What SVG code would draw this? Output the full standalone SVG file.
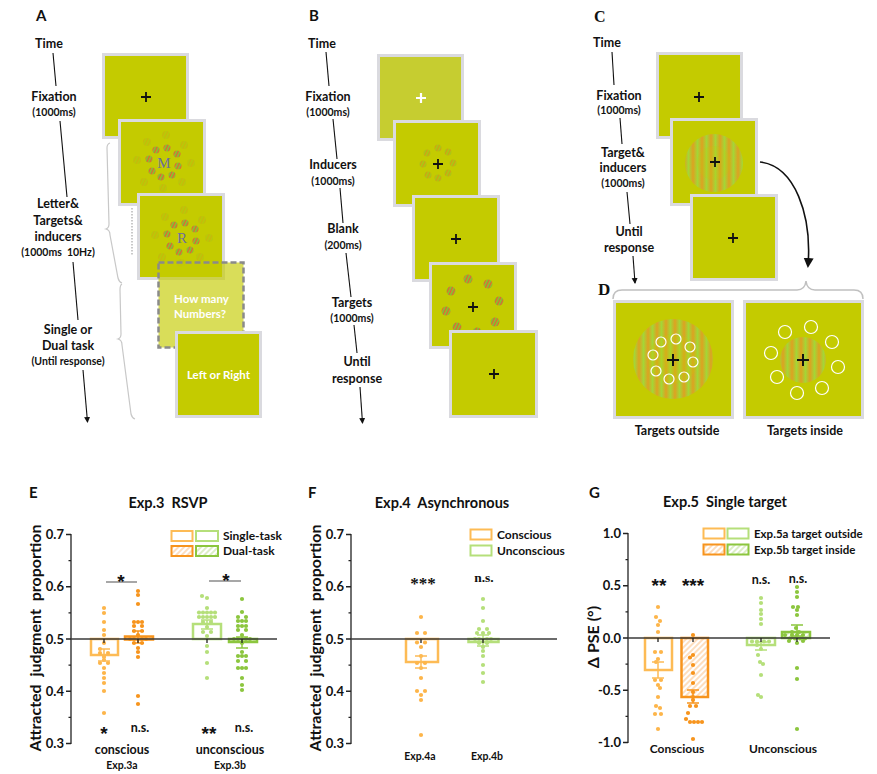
<svg xmlns="http://www.w3.org/2000/svg" width="877" height="774" viewBox="0 0 877 774">
<style>
.t{font-family:Lato,"Liberation Sans",sans-serif;font-weight:bold;fill:#111}
.s{font-size:12.5px;text-anchor:middle}
.p{font-size:10.5px;text-anchor:middle}
.lab{font-size:15px}
.serif{font-family:"Liberation Serif",serif;font-weight:bold;fill:#111}
.st{font-family:"Liberation Sans",sans-serif;font-weight:bold;fill:#111;font-size:19px;text-anchor:middle}
.scr{fill:#c4cb00;stroke:#dadadf;stroke-width:3}
.tl{stroke:#111;stroke-width:1.1;fill:none}
.ax{stroke:#222;stroke-width:1.3;fill:none}
.zl{stroke:#3a3a3a;stroke-width:1.6}
.tk{font-size:13px;text-anchor:end}
.yl{font-size:16px;text-anchor:middle}
.lo{fill:#fdb54a}.do{fill:#f7941d}.lg{fill:#b5df7a}.dg{fill:#8cc63e}
.brk{stroke:#c8c8c8;stroke-width:1.2;fill:none}
.cr{stroke:#111;stroke-width:1.8}
</style>
<defs>
<pattern id="rg" patternUnits="userSpaceOnUse" width="3" height="4" patternTransform="rotate(25)"><rect width="1.5" height="4" fill="#ee5a32"/><rect x="1.5" width="1.5" height="4" fill="#74c83a"/></pattern>
<linearGradient id="grat" gradientUnits="userSpaceOnUse" x1="0" y1="0" x2="9" y2="0" spreadMethod="repeat"><stop offset="0" stop-color="#e39a26"/><stop offset="0.5" stop-color="#9ed840"/><stop offset="1" stop-color="#e39a26"/></linearGradient>
<pattern id="hO" patternUnits="userSpaceOnUse" width="4" height="4" patternTransform="rotate(45)"><rect width="4" height="4" fill="#fff"/><line x1="1" y1="0" x2="1" y2="4" stroke="#fcc894" stroke-width="1.2"/></pattern>
<pattern id="hG" patternUnits="userSpaceOnUse" width="4" height="4" patternTransform="rotate(45)"><rect width="4" height="4" fill="#fff"/><line x1="1" y1="0" x2="1" y2="4" stroke="#c6e3a0" stroke-width="1.2"/></pattern>
<marker id="ah" markerUnits="userSpaceOnUse" markerWidth="8" markerHeight="8" refX="5" refY="3" orient="auto"><path d="M0,0 L6,3 L0,6 z" fill="#111"/></marker>
<marker id="ah2" markerUnits="userSpaceOnUse" markerWidth="12" markerHeight="12" refX="8" refY="5" orient="auto"><path d="M0,0 L10,5 L0,10 z" fill="#111"/></marker>
</defs>
<rect width="877" height="774" fill="#fff"/>

<!-- ===== Panel A ===== -->
<g id="panelA">
<text class="t lab" x="36" y="21">A</text>
<g id="A-timeline">
<text class="t s" x="49" y="48">Time</text>
<text class="t s" x="54" y="101">Fixation</text>
<text class="t p" x="54" y="116">(1000ms)</text>
<text class="t s" x="58" y="208">Letter&amp;</text>
<text class="t s" x="58" y="225">Targets&amp;</text>
<text class="t s" x="58" y="241">inducers</text>
<text class="t p" x="58" y="256">(1000ms&#160; 10Hz)</text>
<text class="t s" x="68" y="334">Single or</text>
<text class="t s" x="68" y="350">Dual task</text>
<text class="t p" x="68" y="365">(Until response)</text>
</g>
<g id="A-brackets">
<path class="brk" d="M110,143 Q107,144 107,148 L109,224 Q109,228 106,229 Q110,230 110,235 L118,278 Q119,282 122,283"/>
<path class="brk" d="M122,284 Q120,285 120,290 L121,334 Q121,338 118,339 Q122,340 122,345 L131,414 Q132,418 135,419"/>
<line x1="132" y1="208" x2="132" y2="256" stroke="#b8b8b8" stroke-width="1.5" stroke-dasharray="1.5,1.5"/>
</g>
<g id="A-screen1"><rect class="scr" x="103.5" y="54.5" width="84" height="83"/>
<path class="cr" d="M141,97 h10 M146,92 v10"/></g>
<g id="A-screen2"><rect class="scr" x="119.5" y="120.5" width="85" height="84"/>
<g fill="url(#rg)" opacity="0.18"><circle cx="166" cy="135" r="4"/><circle cx="184" cy="145" r="4"/><circle cx="191" cy="163" r="4"/><circle cx="182" cy="182" r="4"/><circle cx="163" cy="188" r="4"/><circle cx="144" cy="182" r="4"/><circle cx="137" cy="160" r="4"/><circle cx="147" cy="142" r="4"/></g>
<g fill="url(#rg)"><circle cx="156" cy="150" r="3.6"/><circle cx="167" cy="148" r="3.6"/><circle cx="177" cy="154" r="3.6"/><circle cx="178" cy="166" r="3.6"/><circle cx="172" cy="175" r="3.6"/><circle cx="161" cy="177" r="3.6"/><circle cx="152" cy="171" r="3.6"/><circle cx="149" cy="159" r="3.6"/></g>
<text x="164" y="168" font-family="Liberation Serif,serif" font-size="15" fill="#6c6f9e" text-anchor="middle">M</text></g>
<g id="A-screen3"><rect class="scr" x="138.5" y="194.5" width="85" height="84"/>
<g fill="url(#rg)" opacity="0.18"><circle cx="184" cy="210" r="4"/><circle cx="202" cy="220" r="4"/><circle cx="209" cy="238" r="4"/><circle cx="200" cy="257" r="4"/><circle cx="181" cy="263" r="4"/><circle cx="162" cy="257" r="4"/><circle cx="155" cy="235" r="4"/><circle cx="165" cy="217" r="4"/></g>
<g fill="url(#rg)"><circle cx="174" cy="225" r="3.6"/><circle cx="185" cy="223" r="3.6"/><circle cx="195" cy="229" r="3.6"/><circle cx="196" cy="241" r="3.6"/><circle cx="190" cy="250" r="3.6"/><circle cx="179" cy="252" r="3.6"/><circle cx="170" cy="246" r="3.6"/><circle cx="167" cy="234" r="3.6"/></g>
<text x="182" y="243" font-family="Liberation Serif,serif" font-size="15" fill="#6c6f9e" text-anchor="middle">R</text></g>
<g id="A-screen4"><rect x="158.5" y="262.5" width="85" height="85" fill="#c4cb00" fill-opacity="0.65" stroke="#8a8a8a" stroke-width="2.5" stroke-dasharray="6,3"/>
<text class="t" x="174" y="303" font-size="11.5" style="fill:#fff">How many</text>
<text class="t" x="174" y="318" font-size="11.5" style="fill:#fff">Numbers?</text></g>
<g id="A-screen5"><rect class="scr" x="176.5" y="332.5" width="84" height="84"/>
<text class="t" x="218.5" y="379" font-size="11.5" text-anchor="middle" style="fill:#fff">Left or Right</text></g>
</g>

<!-- ===== Panel B ===== -->
<g id="panelB">
<text class="t lab" x="309" y="21">B</text>
<g id="B-timeline">
<text class="t s" x="322" y="48">Time</text>
<text class="t s" x="328" y="101">Fixation</text>
<text class="t p" x="328" y="116">(1000ms)</text>
<text class="t s" x="333" y="169">Inducers</text>
<text class="t p" x="333" y="185">(1000ms)</text>
<text class="t s" x="343" y="233">Blank</text>
<text class="t p" x="343" y="249">(200ms)</text>
<text class="t s" x="352" y="307">Targets</text>
<text class="t p" x="352" y="322">(1000ms)</text>
<text class="t s" x="357" y="366">Until</text>
<text class="t s" x="357" y="383">response</text>
</g>
<g id="B-screen1"><rect x="378.5" y="55.5" width="84" height="84" fill="#c6cd30" stroke="#dadadf" stroke-width="3"/>
<path d="M416,98 h10 M421,93 v10" stroke="#fff" stroke-width="2.2"/></g>
<g id="B-screen2"><rect class="scr" x="394.5" y="121.5" width="85" height="84"/>
<g fill="url(#rg)" opacity="0.4"><circle cx="438" cy="148" r="3.5"/><circle cx="448" cy="152" r="3.5"/><circle cx="453" cy="163" r="3.5"/><circle cx="448" cy="173" r="3.5"/><circle cx="438" cy="178" r="3.5"/><circle cx="428" cy="175" r="3.5"/><circle cx="423" cy="164" r="3.5"/><circle cx="427" cy="153" r="3.5"/></g>
<path class="cr" d="M433,164 h10 M438,159 v10"/></g>
<g id="B-screen3"><rect class="scr" x="413.5" y="196.5" width="85" height="84"/>
<path class="cr" d="M451,239 h10 M456,234 v10"/></g>
<g id="B-screen4"><rect class="scr" x="430.5" y="263.5" width="85" height="84"/>
<g fill="url(#rg)"><circle cx="468" cy="279" r="4.5"/><circle cx="488" cy="284" r="4.5"/><circle cx="499" cy="301" r="4.5"/><circle cx="495" cy="322" r="4.5"/><circle cx="477" cy="332" r="4.5"/><circle cx="457" cy="327" r="4.5"/><circle cx="446" cy="311" r="4.5"/><circle cx="451" cy="291" r="4.5"/></g>
<path class="cr" d="M468,307 h10 M473,302 v10"/></g>
<g id="B-screen5"><rect class="scr" x="450.5" y="331.5" width="86" height="85"/>
<path class="cr" d="M489,374 h10 M494,369 v10"/></g>
</g>

<!-- ===== Panel C ===== -->
<g id="panelC">
<text class="serif" x="594" y="22" font-size="16">C</text>
<g id="C-timeline">
<text class="t s" x="607" y="47">Time</text>
<text class="t s" x="619" y="100">Fixation</text>
<text class="t p" x="619" y="114">(1000ms)</text>
<text class="t s" x="623" y="157">Target&amp;</text>
<text class="t s" x="623" y="172">inducers</text>
<text class="t p" x="623" y="187">(1000ms)</text>
<text class="t s" x="629" y="236">Until</text>
<text class="t s" x="629" y="252">response</text>
</g>
<g id="C-screen1"><rect class="scr" x="657.5" y="53.5" width="84" height="84"/>
<path class="cr" d="M694,97 h10 M699,92 v10"/></g>
<g id="C-screen2"><rect class="scr" x="671.5" y="119.5" width="85" height="85"/>
<circle cx="714" cy="163" r="29" fill="url(#grat)" fill-opacity="0.85"/>
<circle cx="714" cy="163" r="17" fill="#c4cb00" fill-opacity="0.2"/>
<path class="cr" d="M710,162 h10 M715,157 v10"/></g>
<g id="C-screen3"><rect class="scr" x="691.5" y="195.5" width="85" height="84"/>
<path class="cr" d="M728,238 h10 M733,233 v10"/></g>
</g>

<!-- ===== Panel D ===== -->
<g id="panelD">
<text class="serif" x="598" y="295" font-size="17">D</text>
<path d="M613,299 Q613,290 622,290 L797,290 Q805,290 806,281 Q807,290 815,290 L854,290 Q863,290 863,299" stroke="#c0c0c0" stroke-width="1.5" fill="none"/>
<g id="D-outside"><rect class="scr" x="614.5" y="301.5" width="118" height="116"/>
<circle cx="673" cy="359" r="40" fill="url(#grat)" fill-opacity="0.85"/>
<circle cx="673" cy="359" r="25" fill="#c4cb00" fill-opacity="0.25"/>
<g fill="none" stroke="#fff" stroke-width="1.2"><circle cx="661" cy="342" r="5"/><circle cx="676" cy="339" r="5"/><circle cx="690" cy="347" r="5"/><circle cx="693" cy="362" r="5"/><circle cx="684" cy="377" r="5"/><circle cx="669" cy="379" r="5"/><circle cx="656" cy="371" r="5"/><circle cx="653" cy="355" r="5"/></g>
<path d="M667,360 h12 M673,354 v12" stroke="#111" stroke-width="2"/>
<text class="t" x="677" y="435" font-size="12.5" text-anchor="middle">Targets outside</text></g>
<g id="D-inside"><rect class="scr" x="744.5" y="301.5" width="118" height="116"/>
<circle cx="803" cy="360" r="23" fill="url(#grat)" fill-opacity="0.85"/>
<g fill="none" stroke="#fff" stroke-width="1.2"><circle cx="785" cy="332" r="6.5"/><circle cx="811" cy="327" r="6.5"/><circle cx="832" cy="342" r="6.5"/><circle cx="838" cy="367" r="6.5"/><circle cx="822" cy="388" r="6.5"/><circle cx="797" cy="393" r="6.5"/><circle cx="777" cy="377" r="6.5"/><circle cx="771" cy="353" r="6.5"/></g>
<path d="M797,360 h12 M803,354 v12" stroke="#111" stroke-width="2"/>
<text class="t" x="805" y="435" font-size="12.5" text-anchor="middle">Targets inside</text></g>
</g>

<!-- ===== Connectors ===== -->
<g id="connectors">
<line class="tl" x1="53" y1="53" x2="56" y2="86"/>
<line class="tl" x1="60" y1="121" x2="67" y2="197"/>
<line class="tl" x1="73" y1="262" x2="78" y2="320"/>
<line class="tl" x1="83" y1="370" x2="87.5" y2="422" marker-end="url(#ah)"/>
<line class="tl" x1="326" y1="52" x2="329" y2="86"/>
<line class="tl" x1="333" y1="119" x2="337" y2="159"/>
<line class="tl" x1="340" y1="188" x2="343" y2="223"/>
<line class="tl" x1="346" y1="253" x2="351" y2="297"/>
<line class="tl" x1="354" y1="325" x2="357" y2="353"/>
<line class="tl" x1="360" y1="387" x2="362.5" y2="423" marker-end="url(#ah)"/>
<line class="tl" x1="612" y1="52" x2="614" y2="85"/>
<line class="tl" x1="620" y1="118" x2="622" y2="144"/>
<line class="tl" x1="627" y1="192" x2="630" y2="224"/>
<line class="tl" x1="633" y1="256" x2="635" y2="283" marker-end="url(#ah)"/>
<path d="M760,162 C795,166 812,215 808,266" stroke="#111" stroke-width="1.6" fill="none" marker-end="url(#ah2)"/>
</g>

<!-- ===== Panel E ===== -->
<g id="panelE">
<text class="t lab" x="29" y="498">E</text>
<text class="t" x="168" y="508" font-size="14.5" text-anchor="middle">Exp.3&#160; RSVP</text>
<text class="t yl" transform="translate(41,638) rotate(-90)">Attracted&#160; judgment&#160; proportion</text>
<g id="E-axis">
<line class="ax" x1="71" y1="534" x2="71" y2="744"/>
<path class="ax" d="M66,534.5h5M66,586.75h5M66,639h5M66,691.25h5M66,743.5h5M68.5,560.6h2.5M68.5,612.9h2.5M68.5,665.1h2.5M68.5,717.4h2.5"/>
<text class="t tk" x="64" y="539">0.7</text>
<text class="t tk" x="64" y="591">0.6</text>
<text class="t tk" x="64" y="643.5">0.5</text>
<text class="t tk" x="64" y="695.5">0.4</text>
<text class="t tk" x="64" y="748">0.3</text>
</g>
<g id="E-legend">
<rect x="171.5" y="531" width="21" height="10" fill="#fff" stroke="#fdbb55" stroke-width="2"/>
<rect x="196" y="531" width="22" height="10" fill="#fff" stroke="#b5df7a" stroke-width="2"/>
<rect x="171.5" y="546" width="21" height="10" fill="url(#hO)" stroke="#f7941d" stroke-width="2"/>
<rect x="196" y="546" width="22" height="10" fill="url(#hG)" stroke="#8cc63e" stroke-width="2"/>
<text class="t" x="223" y="540" font-size="12">Single-task</text>
<text class="t" x="223" y="555" font-size="12">Dual-task</text>
</g>
<g id="E-bars">
<rect x="91" y="639" width="27" height="16" fill="#fff" stroke="#fdbb55" stroke-width="2.5"/>
<rect x="125" y="636.5" width="28" height="3" fill="url(#hO)" stroke="#f7941d" stroke-width="2.5"/>
<rect x="193" y="624" width="28" height="15" fill="#fff" stroke="#b5df7a" stroke-width="2.5"/>
<rect x="229" y="639" width="28" height="3" fill="url(#hG)" stroke="#8cc63e" stroke-width="2.5"/>
</g>
<g id="E-dots">
<g class="lo"><circle cx="104" cy="608" r="2.1"/><circle cx="104" cy="613" r="2.1"/><circle cx="104" cy="622" r="2.1"/><circle cx="104" cy="630" r="2.1"/><circle cx="104" cy="635" r="2.1"/><circle cx="104" cy="643" r="2.1"/><circle cx="100" cy="649" r="2.1"/><circle cx="100" cy="653" r="2.1"/><circle cx="108" cy="653" r="2.1"/><circle cx="104" cy="657" r="2.1"/><circle cx="104" cy="660" r="2.1"/><circle cx="100" cy="663" r="2.1"/><circle cx="108" cy="663" r="2.1"/><circle cx="104" cy="668" r="2.1"/><circle cx="104" cy="673" r="2.1"/><circle cx="104" cy="678" r="2.1"/><circle cx="104" cy="683" r="2.1"/><circle cx="104" cy="691" r="2.1"/><circle cx="104" cy="713" r="2.1"/></g>
<g class="do"><circle cx="138" cy="591" r="2.1"/><circle cx="138" cy="595" r="2.1"/><circle cx="138" cy="604" r="2.1"/><circle cx="134" cy="622" r="2.1"/><circle cx="138" cy="622" r="2.1"/><circle cx="142" cy="622" r="2.1"/><circle cx="134" cy="626" r="2.1"/><circle cx="142" cy="626" r="2.1"/><circle cx="134" cy="631" r="2.1"/><circle cx="142" cy="631" r="2.1"/><circle cx="138" cy="635" r="2.1"/><circle cx="130" cy="639" r="2.1"/><circle cx="134" cy="639" r="2.1"/><circle cx="142" cy="639" r="2.1"/><circle cx="146" cy="639" r="2.1"/><circle cx="134" cy="643" r="2.1"/><circle cx="142" cy="643" r="2.1"/><circle cx="138" cy="648" r="2.1"/><circle cx="138" cy="652" r="2.1"/><circle cx="138" cy="657" r="2.1"/><circle cx="138" cy="696" r="2.1"/><circle cx="138" cy="704" r="2.1"/></g>
<g class="lg"><circle cx="202" cy="596" r="2.1"/><circle cx="207" cy="598" r="2.1"/><circle cx="207" cy="608" r="2.1"/><circle cx="199" cy="612.5" r="2.1"/><circle cx="203" cy="612.5" r="2.1"/><circle cx="207" cy="612.5" r="2.1"/><circle cx="211" cy="612.5" r="2.1"/><circle cx="215" cy="612.5" r="2.1"/><circle cx="199" cy="617" r="2.1"/><circle cx="203" cy="617" r="2.1"/><circle cx="207" cy="617" r="2.1"/><circle cx="211" cy="617" r="2.1"/><circle cx="215" cy="617" r="2.1"/><circle cx="203" cy="622" r="2.1"/><circle cx="211" cy="622" r="2.1"/><circle cx="207" cy="627" r="2.1"/><circle cx="203" cy="632" r="2.1"/><circle cx="211" cy="632" r="2.1"/><circle cx="207" cy="636" r="2.1"/><circle cx="207" cy="646" r="2.1"/><circle cx="207" cy="652" r="2.1"/><circle cx="207" cy="663" r="2.1"/><circle cx="207" cy="678" r="2.1"/></g>
<g class="dg"><circle cx="242" cy="599" r="2.1"/><circle cx="242" cy="612" r="2.1"/><circle cx="238" cy="617" r="2.1"/><circle cx="246" cy="617" r="2.1"/><circle cx="238" cy="621" r="2.1"/><circle cx="242" cy="621" r="2.1"/><circle cx="246" cy="621" r="2.1"/><circle cx="238" cy="626" r="2.1"/><circle cx="242" cy="626" r="2.1"/><circle cx="246" cy="626" r="2.1"/><circle cx="238" cy="630" r="2.1"/><circle cx="246" cy="630" r="2.1"/><circle cx="242" cy="635" r="2.1"/><circle cx="234" cy="639" r="2.1"/><circle cx="238" cy="639" r="2.1"/><circle cx="246" cy="639" r="2.1"/><circle cx="250" cy="639" r="2.1"/><circle cx="242" cy="643" r="2.1"/><circle cx="242" cy="652" r="2.1"/><circle cx="238" cy="656" r="2.1"/><circle cx="242" cy="656" r="2.1"/><circle cx="246" cy="656" r="2.1"/><circle cx="238" cy="661" r="2.1"/><circle cx="246" cy="661" r="2.1"/><circle cx="238" cy="668" r="2.1"/><circle cx="242" cy="668" r="2.1"/><circle cx="246" cy="668" r="2.1"/><circle cx="242" cy="678" r="2.1"/><circle cx="242" cy="685" r="2.1"/><circle cx="242" cy="690" r="2.1"/></g>
</g>
<g id="E-errors" stroke-width="1.5" fill="none">
<path stroke="#fdbb55" d="M104,649v12M98,649h12M98,661h12"/>
<path stroke="#f7941d" d="M138,631v12M132,631h12M132,643h12"/>
<path stroke="#b5df7a" d="M207,620v9M201,620h12M201,629h12"/>
<path stroke="#8cc63e" d="M242,637v11M236,637h12M236,648h12"/>
</g>
<line class="zl" x1="71" y1="639" x2="277" y2="639"/>
<path stroke="#222" stroke-width="1.3" d="M104,639v4M138,639v4M207,639v4M242,639v4"/>
<g id="E-sig">
<line x1="106" y1="582" x2="137" y2="582" stroke="#777" stroke-width="1.3"/>
<line x1="209" y1="581" x2="241" y2="581" stroke="#777" stroke-width="1.3"/>
<text class="st" x="121" y="588">*</text>
<text class="st" x="226" y="587">*</text>
<text class="st" x="104" y="740">*</text>
<text class="t" x="140" y="732" font-size="12.5" text-anchor="middle">n.s.</text>
<text class="st" x="209" y="740">**</text>
<text class="t" x="244" y="732" font-size="12.5" text-anchor="middle">n.s.</text>
</g>
<text class="t" x="122" y="754" font-size="12.5" text-anchor="middle">conscious</text>
<text class="t" x="230" y="754" font-size="12.5" text-anchor="middle">unconscious</text>
<text class="t" x="122" y="769" font-size="10.5" text-anchor="middle">Exp.3a</text>
<text class="t" x="230" y="769" font-size="10.5" text-anchor="middle">Exp.3b</text>
</g>

<!-- ===== Panel F ===== -->
<g id="panelF">
<text class="t lab" x="308" y="498">F</text>
<text class="t" x="442" y="508" font-size="14.5" text-anchor="middle">Exp.4&#160; Asynchronous</text>
<text class="t yl" transform="translate(321,638) rotate(-90)">Attracted&#160; judgment&#160; proportion</text>
<g id="F-axis">
<line class="ax" x1="351" y1="534" x2="351" y2="744"/>
<path class="ax" d="M346,534.5h5M346,586.75h5M346,639h5M346,691.25h5M346,743.5h5M348.5,560.6h2.5M348.5,612.9h2.5M348.5,665.1h2.5M348.5,717.4h2.5"/>
<text class="t tk" x="344" y="539">0.7</text>
<text class="t tk" x="344" y="591">0.6</text>
<text class="t tk" x="344" y="643.5">0.5</text>
<text class="t tk" x="344" y="695.5">0.4</text>
<text class="t tk" x="344" y="748">0.3</text>
</g>
<g id="F-legend">
<rect x="470.5" y="529.5" width="21" height="10" fill="#fff" stroke="#fdbb55" stroke-width="2"/>
<rect x="470.5" y="545.5" width="21" height="10" fill="#fff" stroke="#b5df7a" stroke-width="2"/>
<text class="t" x="497" y="538.5" font-size="12">Conscious</text>
<text class="t" x="497" y="554.5" font-size="12">Unconscious</text>
</g>
<g id="F-bars">
<rect x="406" y="639" width="32" height="23" fill="#fff" stroke="#fdbb55" stroke-width="2.5"/>
<rect x="468.5" y="639" width="30" height="3" fill="#fff" stroke="#b5df7a" stroke-width="2.5"/>
</g>
<g id="F-dots">
<g class="lo"><circle cx="421" cy="617" r="2.1"/><circle cx="417" cy="633" r="2.1"/><circle cx="425" cy="633" r="2.1"/><circle cx="417" cy="642.5" r="2.1"/><circle cx="425" cy="642.5" r="2.1"/><circle cx="421" cy="647" r="2.1"/><circle cx="421" cy="656" r="2.1"/><circle cx="417" cy="663" r="2.1"/><circle cx="425" cy="663" r="2.1"/><circle cx="421" cy="668" r="2.1"/><circle cx="421" cy="678" r="2.1"/><circle cx="417" cy="691" r="2.1"/><circle cx="425" cy="691" r="2.1"/><circle cx="421" cy="695" r="2.1"/><circle cx="421" cy="700" r="2.1"/><circle cx="421" cy="735" r="2.1"/></g>
<g class="lg"><circle cx="483" cy="599" r="2.1"/><circle cx="483" cy="608" r="2.1"/><circle cx="483" cy="621" r="2.1"/><circle cx="479" cy="629" r="2.1"/><circle cx="487" cy="629" r="2.1"/><circle cx="477" cy="633" r="2.1"/><circle cx="483" cy="633" r="2.1"/><circle cx="489" cy="633" r="2.1"/><circle cx="475" cy="639" r="2.1"/><circle cx="479" cy="639" r="2.1"/><circle cx="487" cy="639" r="2.1"/><circle cx="491" cy="639" r="2.1"/><circle cx="479" cy="643" r="2.1"/><circle cx="487" cy="643" r="2.1"/><circle cx="483" cy="647" r="2.1"/><circle cx="483" cy="651" r="2.1"/><circle cx="483" cy="656" r="2.1"/><circle cx="483" cy="665" r="2.1"/><circle cx="483" cy="673" r="2.1"/><circle cx="483" cy="682" r="2.1"/></g>
</g>
<g id="F-errors" stroke-width="1.5" fill="none">
<path stroke="#fdbb55" d="M421,656v12M415,656h12M415,668h12"/>
<path stroke="#b5df7a" d="M483,635v11M477,635h12M477,646h12"/>
</g>
<line class="zl" x1="351" y1="639" x2="557" y2="639"/>
<path stroke="#222" stroke-width="1.3" d="M421,639v4M483,639v4"/>
<text class="serif" x="423" y="589" font-size="17" text-anchor="middle">***</text>
<text class="serif" x="484" y="582" font-size="13.5" text-anchor="middle">n.s.</text>
<text class="t" x="420" y="760" font-size="10.5" text-anchor="middle">Exp.4a</text>
<text class="t" x="487" y="760" font-size="10.5" text-anchor="middle">Exp.4b</text>
</g>

<!-- ===== Panel G ===== -->
<g id="panelG">
<text class="t lab" x="589" y="498">G</text>
<text class="t" x="725" y="507" font-size="14.5" text-anchor="middle">Exp.5&#160; Single target</text>
<text class="t yl" transform="translate(599,637) rotate(-90)">Δ PSE (°)</text>
<g id="G-axis">
<line class="ax" x1="628" y1="533" x2="628" y2="743"/>
<path class="ax" d="M623,533.5h5M623,585.75h5M623,638h5M623,690.25h5M623,742.5h5M625.5,559.6h2.5M625.5,611.9h2.5M625.5,664.1h2.5M625.5,716.4h2.5"/>
<text class="t tk" x="621" y="538">1.0</text>
<text class="t tk" x="621" y="590">0.5</text>
<text class="t tk" x="621" y="642.5">0.0</text>
<text class="t tk" x="621" y="694.5">-0.5</text>
<text class="t tk" x="621" y="747">-1.0</text>
</g>
<g id="G-legend">
<rect x="703.5" y="528.5" width="21" height="10" fill="#fff" stroke="#fdbb55" stroke-width="2"/>
<rect x="727.5" y="528.5" width="21" height="10" fill="#fff" stroke="#b5df7a" stroke-width="2"/>
<rect x="703.5" y="544.5" width="21" height="10" fill="url(#hO)" stroke="#f7941d" stroke-width="2"/>
<rect x="727.5" y="544.5" width="21" height="10" fill="url(#hG)" stroke="#8cc63e" stroke-width="2"/>
<text class="t" x="754" y="537.5" font-size="11.5">Exp.5a target outside</text>
<text class="t" x="754" y="553.5" font-size="11.5">Exp.5b target inside</text>
</g>
<g id="G-bars">
<rect x="645" y="638" width="27" height="32" fill="#fff" stroke="#fdbb55" stroke-width="2.5"/>
<rect x="681.5" y="638" width="26.5" height="59" fill="url(#hO)" stroke="#f7941d" stroke-width="2.5"/>
<rect x="747" y="638" width="28" height="7" fill="#fff" stroke="#b5df7a" stroke-width="2.5"/>
<rect x="782" y="632" width="28" height="6" fill="url(#hG)" stroke="#8cc63e" stroke-width="2.5"/>
</g>
<g id="G-dots">
<g class="lo"><circle cx="658" cy="607" r="2.1"/><circle cx="656" cy="617" r="2.1"/><circle cx="660" cy="621" r="2.1"/><circle cx="658" cy="625" r="2.1"/><circle cx="658" cy="632" r="2.1"/><circle cx="655" cy="652" r="2.1"/><circle cx="661" cy="652" r="2.1"/><circle cx="658" cy="659" r="2.1"/><circle cx="656" cy="662" r="2.1"/><circle cx="655" cy="680" r="2.1"/><circle cx="661" cy="680" r="2.1"/><circle cx="658" cy="685" r="2.1"/><circle cx="660" cy="688" r="2.1"/><circle cx="658" cy="697" r="2.1"/><circle cx="656" cy="706" r="2.1"/><circle cx="660" cy="708" r="2.1"/><circle cx="655" cy="714" r="2.1"/><circle cx="661" cy="714" r="2.1"/><circle cx="658" cy="729" r="2.1"/></g>
<g class="do"><circle cx="693" cy="635" r="2.1"/><circle cx="693" cy="655" r="2.1"/><circle cx="690" cy="657.5" r="2.1"/><circle cx="693" cy="665" r="2.1"/><circle cx="693" cy="673" r="2.1"/><circle cx="693" cy="683" r="2.1"/><circle cx="693" cy="692" r="2.1"/><circle cx="693" cy="697" r="2.1"/><circle cx="693" cy="700" r="2.1"/><circle cx="690" cy="706" r="2.1"/><circle cx="696" cy="706" r="2.1"/><circle cx="688" cy="713" r="2.1"/><circle cx="686" cy="719" r="2.1"/><circle cx="690" cy="722" r="2.1"/><circle cx="694" cy="722" r="2.1"/><circle cx="698" cy="722" r="2.1"/><circle cx="702" cy="722" r="2.1"/><circle cx="693" cy="739" r="2.1"/></g>
<g class="lg"><circle cx="761" cy="598" r="2.1"/><circle cx="761" cy="603" r="2.1"/><circle cx="761" cy="610" r="2.1"/><circle cx="761" cy="614" r="2.1"/><circle cx="761" cy="619" r="2.1"/><circle cx="761" cy="624" r="2.1"/><circle cx="752" cy="641.5" r="2.1"/><circle cx="757" cy="641.5" r="2.1"/><circle cx="764" cy="641.5" r="2.1"/><circle cx="769" cy="641.5" r="2.1"/><circle cx="757" cy="645" r="2.1"/><circle cx="761" cy="649" r="2.1"/><circle cx="758" cy="655" r="2.1"/><circle cx="760" cy="662" r="2.1"/><circle cx="763" cy="664" r="2.1"/><circle cx="761" cy="675" r="2.1"/><circle cx="758" cy="695" r="2.1"/><circle cx="761" cy="697" r="2.1"/></g>
<g class="dg"><circle cx="797" cy="587" r="2.1"/><circle cx="797" cy="592" r="2.1"/><circle cx="797" cy="597" r="2.1"/><circle cx="793" cy="607" r="2.1"/><circle cx="798" cy="607" r="2.1"/><circle cx="797" cy="610" r="2.1"/><circle cx="797" cy="615" r="2.1"/><circle cx="796" cy="628" r="2.1"/><circle cx="792" cy="632" r="2.1"/><circle cx="799" cy="632" r="2.1"/><circle cx="785" cy="635" r="2.1"/><circle cx="792" cy="635" r="2.1"/><circle cx="797" cy="635" r="2.1"/><circle cx="803" cy="635" r="2.1"/><circle cx="790" cy="638.5" r="2.1"/><circle cx="795" cy="638.5" r="2.1"/><circle cx="800" cy="638.5" r="2.1"/><circle cx="805" cy="638.5" r="2.1"/><circle cx="789" cy="641" r="2.1"/><circle cx="803" cy="641" r="2.1"/><circle cx="797" cy="643" r="2.1"/><circle cx="797" cy="668" r="2.1"/><circle cx="797" cy="679" r="2.1"/><circle cx="797" cy="729" r="2.1"/></g>
</g>
<g id="G-errors" stroke-width="1.5" fill="none">
<path stroke="#fdbb55" d="M658,662v16M652,662h12M652,678h12"/>
<path stroke="#f7941d" d="M693,690v13M687,690h12M687,703h12"/>
<path stroke="#b5df7a" d="M761,642v8M755,642h12M755,650h12"/>
<path stroke="#8cc63e" d="M797,625v11M791,625h12M791,636h12"/>
</g>
<line class="zl" x1="628" y1="638" x2="830" y2="638"/>
<path stroke="#222" stroke-width="1.3" d="M658,638v4M693,638v4M761,638v4M797,638v4"/>
<text class="st" x="659" y="592">**</text>
<text class="st" x="693" y="592">***</text>
<text class="t" x="761" y="584" font-size="12.5" text-anchor="middle">n.s.</text>
<text class="t" x="798" y="583" font-size="12.5" text-anchor="middle">n.s.</text>
<text class="t" x="677" y="753" font-size="12" text-anchor="middle">Conscious</text>
<text class="t" x="783" y="753" font-size="12" text-anchor="middle">Unconscious</text>
</g>
</svg>
